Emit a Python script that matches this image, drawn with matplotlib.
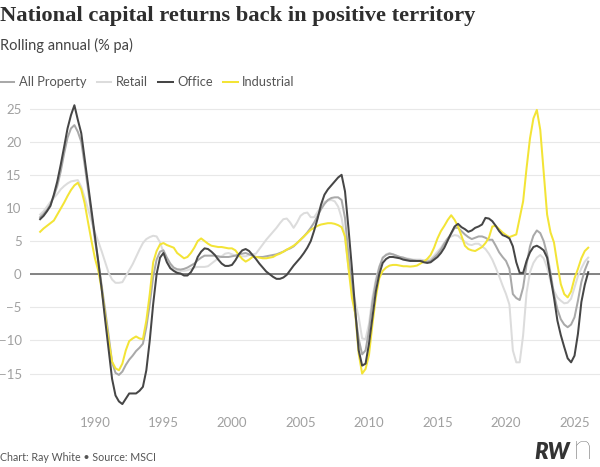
"""Rolling annual capital returns by sector (MSCI), Ray White style chart."""
import numpy as np
import matplotlib

matplotlib.use("Agg")
import matplotlib.pyplot as plt  # noqa: E402

# quarterly, 1986 Q1 .. 2026 Q1 (positions in decimal years)
years = np.arange(1986.0, 2026.01, 0.25)

office = [
    8.3, 8.8, 9.5, 10.3,
    12.0, 14.0, 16.5, 19.2,
    22.0, 24.0, 25.5, 23.3,
    21.3, 17.4, 13.5, 9.6,
    5.7, 1.8, -2.4, -7.0,
    -11.4, -15.8, -18.3, -19.2,
    -19.6, -18.8, -18.0, -18.0,
    -18.0, -17.6, -17.0, -14.5,
    -10.0, -4.5, 0.0, 2.5,
    3.2, 1.8, 0.9, 0.5,
    0.2, 0.1, -0.2, -0.2,
    0.3, 1.2, 2.6, 3.4,
    3.9, 3.8, 3.4, 2.9,
    2.2, 1.6, 1.25, 1.25,
    1.4, 2.1, 3.0, 3.6,
    3.8, 3.5, 2.9, 2.3,
    1.6, 1.0, 0.4, 0.0,
    -0.4, -0.7, -0.7, -0.5,
    -0.1, 0.6, 1.3, 1.9,
    2.5, 3.2, 4.0, 5.0,
    6.6, 8.4, 10.5, 12.0,
    12.8, 13.4, 14.0, 14.6,
    15.0, 12.5, 7.0, 1.0,
    -5.5, -11.5, -13.8, -13.5,
    -10.5, -6.5, -2.6, 0.0,
    1.7, 2.3, 2.6, 2.6,
    2.5, 2.4, 2.2, 2.1,
    2.0, 2.0, 2.0, 2.0,
    1.8, 1.7, 1.8, 2.2,
    2.6, 3.2, 4.0, 5.1,
    6.2, 7.2, 7.6, 7.1,
    6.8, 6.4, 6.6, 7.0,
    7.2, 7.5, 8.5, 8.4,
    8.0, 7.3, 6.5, 5.9,
    5.7, 5.4, 4.2, 1.8,
    0.2, 0.2, 2.0, 3.3,
    4.1, 4.3, 4.0, 3.6,
    2.5, -0.5, -3.5, -7.0,
    -9.2, -11.0, -12.7, -13.3,
    -12.3, -9.0, -4.2, -1.6,
    0.3,
]

industrial = [
    6.4, 6.9, 7.3, 7.7,
    8.1, 9.0, 9.9, 10.8,
    11.8, 12.7, 13.4, 13.8,
    12.8, 10.7, 7.8, 5.0,
    2.4, 0.5, -2.4, -6.3,
    -10.0, -13.2, -14.2, -14.5,
    -13.5, -11.5, -10.1, -9.7,
    -9.4, -9.7, -9.8, -7.0,
    -3.0, 1.8, 3.5, 4.5,
    4.7, 4.4, 4.2, 4.0,
    3.2, 2.8, 2.4, 2.6,
    3.2, 4.0, 5.0, 5.4,
    5.0, 4.6, 4.3, 4.2,
    4.1, 4.1, 4.0, 3.9,
    3.9, 3.6, 2.9, 2.3,
    1.9, 2.2, 2.6, 2.6,
    2.5, 2.4, 2.4, 2.5,
    2.6, 2.9, 3.1, 3.4,
    3.7, 4.0, 4.3, 4.7,
    5.2, 5.7, 6.2, 6.7,
    7.0, 7.3, 7.5, 7.6,
    7.7, 7.7, 7.6, 7.4,
    7.1, 5.7, 1.0, -3.5,
    -6.0, -12.0, -15.0, -14.3,
    -12.2, -7.6, -3.5, -0.6,
    0.5, 1.0, 1.3, 1.4,
    1.4, 1.3, 1.2, 1.2,
    1.15, 1.2, 1.3, 1.6,
    1.9, 2.3, 2.9, 4.0,
    5.4, 6.5, 7.3, 8.2,
    8.9, 8.2, 7.2, 5.8,
    4.3, 3.8, 3.6, 3.5,
    3.8, 4.1, 4.7, 5.5,
    7.2, 7.3, 6.8, 6.3,
    5.9, 5.6, 5.8, 6.0,
    8.5, 11.0, 16.0, 20.5,
    23.5, 24.8, 21.8, 15.5,
    9.0, 6.3, 4.8, 1.5,
    -1.5, -3.0, -3.5, -2.6,
    -0.6, 0.8, 2.4, 3.5,
    4.0,
]

retail = [
    9.0, 9.5, 10.2, 10.9,
    11.5, 12.1, 12.8, 13.3,
    13.7, 14.0, 14.1, 14.2,
    13.2, 11.6, 9.8, 8.0,
    6.3, 4.9, 3.4, 1.8,
    0.2, -0.8, -1.3, -1.3,
    -1.2, -0.3, 0.6, 1.5,
    2.6, 3.7, 4.7, 5.3,
    5.6, 5.8, 5.7, 4.8,
    3.3, 1.9, 1.2, 0.7,
    0.5, 0.5, 0.5, 0.6,
    0.8, 1.0, 1.1, 1.1,
    1.1, 1.2, 1.6, 2.0,
    2.4, 2.7, 3.1, 3.2,
    3.0, 2.8, 2.7, 2.7,
    2.7, 2.9, 3.0, 3.1,
    3.8, 4.5, 5.2, 5.8,
    6.4, 7.0, 7.7, 8.3,
    8.4, 7.8, 7.0, 7.8,
    8.8, 9.2, 9.3, 8.6,
    8.6, 9.4, 10.2, 10.9,
    11.1, 11.2, 11.0, 10.2,
    8.5, 5.5, 1.0, -2.0,
    -4.2, -6.5, -9.7, -9.8,
    -7.5, -3.5, -0.8, 1.2,
    2.3, 3.0, 3.2, 3.0,
    2.8, 2.6, 2.5, 2.4,
    2.3, 2.2, 2.2, 2.2,
    2.1, 2.1, 2.3, 2.8,
    3.4, 4.0, 4.8, 5.4,
    5.7, 5.9, 5.8, 5.3,
    4.9, 4.5, 4.4, 4.6,
    4.6, 4.2, 3.8, 3.1,
    2.2, 1.0, -0.3, -1.7,
    -3.0, -4.6, -11.5, -13.3,
    -13.3, -9.2, -2.8, 0.3,
    1.7, 2.5, 2.9, 2.4,
    1.0, -1.1, -2.5, -3.5,
    -4.0, -4.4, -4.3, -3.7,
    -2.0, -0.3, 0.9, 1.9,
    2.5,
]

all_property = [
    8.6, 9.1, 9.7, 10.5,
    11.8, 13.3, 15.5, 18.2,
    20.6, 22.0, 22.5, 21.5,
    20.0, 16.5, 12.7, 8.8,
    5.2, 1.8, -1.8, -5.5,
    -9.3, -13.3, -14.9, -15.2,
    -14.7, -13.7, -12.9, -12.3,
    -11.6, -11.1, -10.5, -8.0,
    -4.5, -0.4, 2.2, 3.4,
    3.6, 2.5, 1.6, 1.0,
    0.75, 0.7, 0.8, 1.0,
    1.3, 1.6, 2.1, 2.5,
    2.8, 2.8, 2.8, 2.8,
    2.7, 2.6, 2.6, 2.6,
    2.7, 2.8, 3.0, 3.1,
    3.2, 3.0, 2.8, 2.6,
    2.6, 2.6, 2.7, 2.8,
    2.9, 3.0, 3.2, 3.4,
    3.7, 3.9, 4.2, 4.7,
    5.2, 5.7, 6.3, 7.0,
    7.8, 8.8, 9.8, 10.6,
    11.2, 11.5, 11.6, 11.6,
    11.2, 8.5, 3.0, -2.0,
    -6.0, -9.8, -12.1, -11.5,
    -8.5, -4.3, -1.2, 1.0,
    2.5, 2.9, 3.1, 3.0,
    2.8, 2.6, 2.5, 2.3,
    2.2, 2.1, 2.0, 2.0,
    2.0, 1.9, 2.0, 2.5,
    3.0, 3.7, 4.6, 5.4,
    6.1, 7.0, 7.0, 6.5,
    6.0, 5.6, 5.3, 5.5,
    5.7, 5.7, 5.5, 5.2,
    5.2, 4.3, 3.3, 2.6,
    2.0, 0.8, -3.0, -3.6,
    -3.9, -2.0, 1.5, 4.2,
    5.8, 6.6, 6.2, 5.0,
    3.0, 0.2, -3.0, -5.3,
    -6.8, -7.6, -8.0, -7.6,
    -6.5, -4.0, -1.2, 0.6,
    1.9,
]

series = [
    ("All Property", all_property, "#a9a9a9"),
    ("Retail", retail, "#dcdcdc"),
    ("Office", office, "#464646"),
    ("Industrial", industrial, "#f3e436"),
]
draw_order = ["Retail", "All Property", "Industrial", "Office"]

y_ticks = [-15, -10, -5, 0, 5, 10, 15, 20, 25]
x_ticks = [1990, 1995, 2000, 2005, 2010, 2015, 2020, 2025]

sans = ["Lato", "DejaVu Sans"]
plt.rcParams["font.family"] = sans

fig = plt.figure(figsize=(6.0, 4.67), dpi=100)
ax = fig.add_axes([0.05, 0.122, 0.95, 0.664])

lookup = {name: (vals, col) for name, vals, col in series}
for z, name in enumerate(draw_order):
    vals, col = lookup[name]
    ax.plot(years, vals, color=col, lw=1.45, zorder=3 + z, solid_joinstyle="round")

ax.set_xlim(1985.26, 2026.86)
ax.set_ylim(-20.5, 26.3)
ax.set_yticks(y_ticks)
ax.set_yticklabels([str(t).replace("-", "\u2212") for t in y_ticks])
ax.set_xticks(x_ticks)
ax.grid(axis="y", color="#e8e8e8", lw=0.8, zorder=0)
ax.axhline(0, color="#7a7a7a", lw=1.3, zorder=2)
for s in ax.spines.values():
    s.set_visible(False)
ax.tick_params(length=0, labelsize=9.5, labelcolor="#a0a0a0")
ax.tick_params(axis="y", pad=6)
ax.tick_params(axis="x", pad=5)

# header
fig.text(0.0, 0.965, "National capital returns back in positive territory",
         family=["Liberation Serif", "DejaVu Serif"], fontweight="bold",
         fontsize=16.2, color="#2e2e2e", va="center", ha="left")
fig.text(0.0, 0.902, "Rolling annual (% pa)", fontsize=10.5, color="#444444",
         va="center", ha="left")

# legend row
lx = 0.0
for name, vals, col in series:
    fig.add_artist(plt.Line2D([lx, lx + 0.024], [0.824, 0.824], color=col, lw=1.45,
                              transform=fig.transFigure))
    t = fig.text(lx + 0.031, 0.824, name, fontsize=9.3, color="#555555",
                 va="center", ha="left")
    fig.canvas.draw()
    bb = t.get_window_extent().transformed(fig.transFigure.inverted())
    lx = bb.x1 + 0.018

# footer
fig.text(0.0, 0.02, "Chart: Ray White \u2022 Source: MSCI", fontsize=7.7,
         color="#555555", va="center", ha="left")
fig.text(0.89, 0.032, "RW", fontsize=16, fontweight="heavy", style="italic",
         color="#333333", va="center", ha="left")
fig.text(0.955, 0.038, "n", fontsize=26, fontweight="light",
         color="#444444", va="center", ha="left")

fig.savefig("out.png", dpi=100)
